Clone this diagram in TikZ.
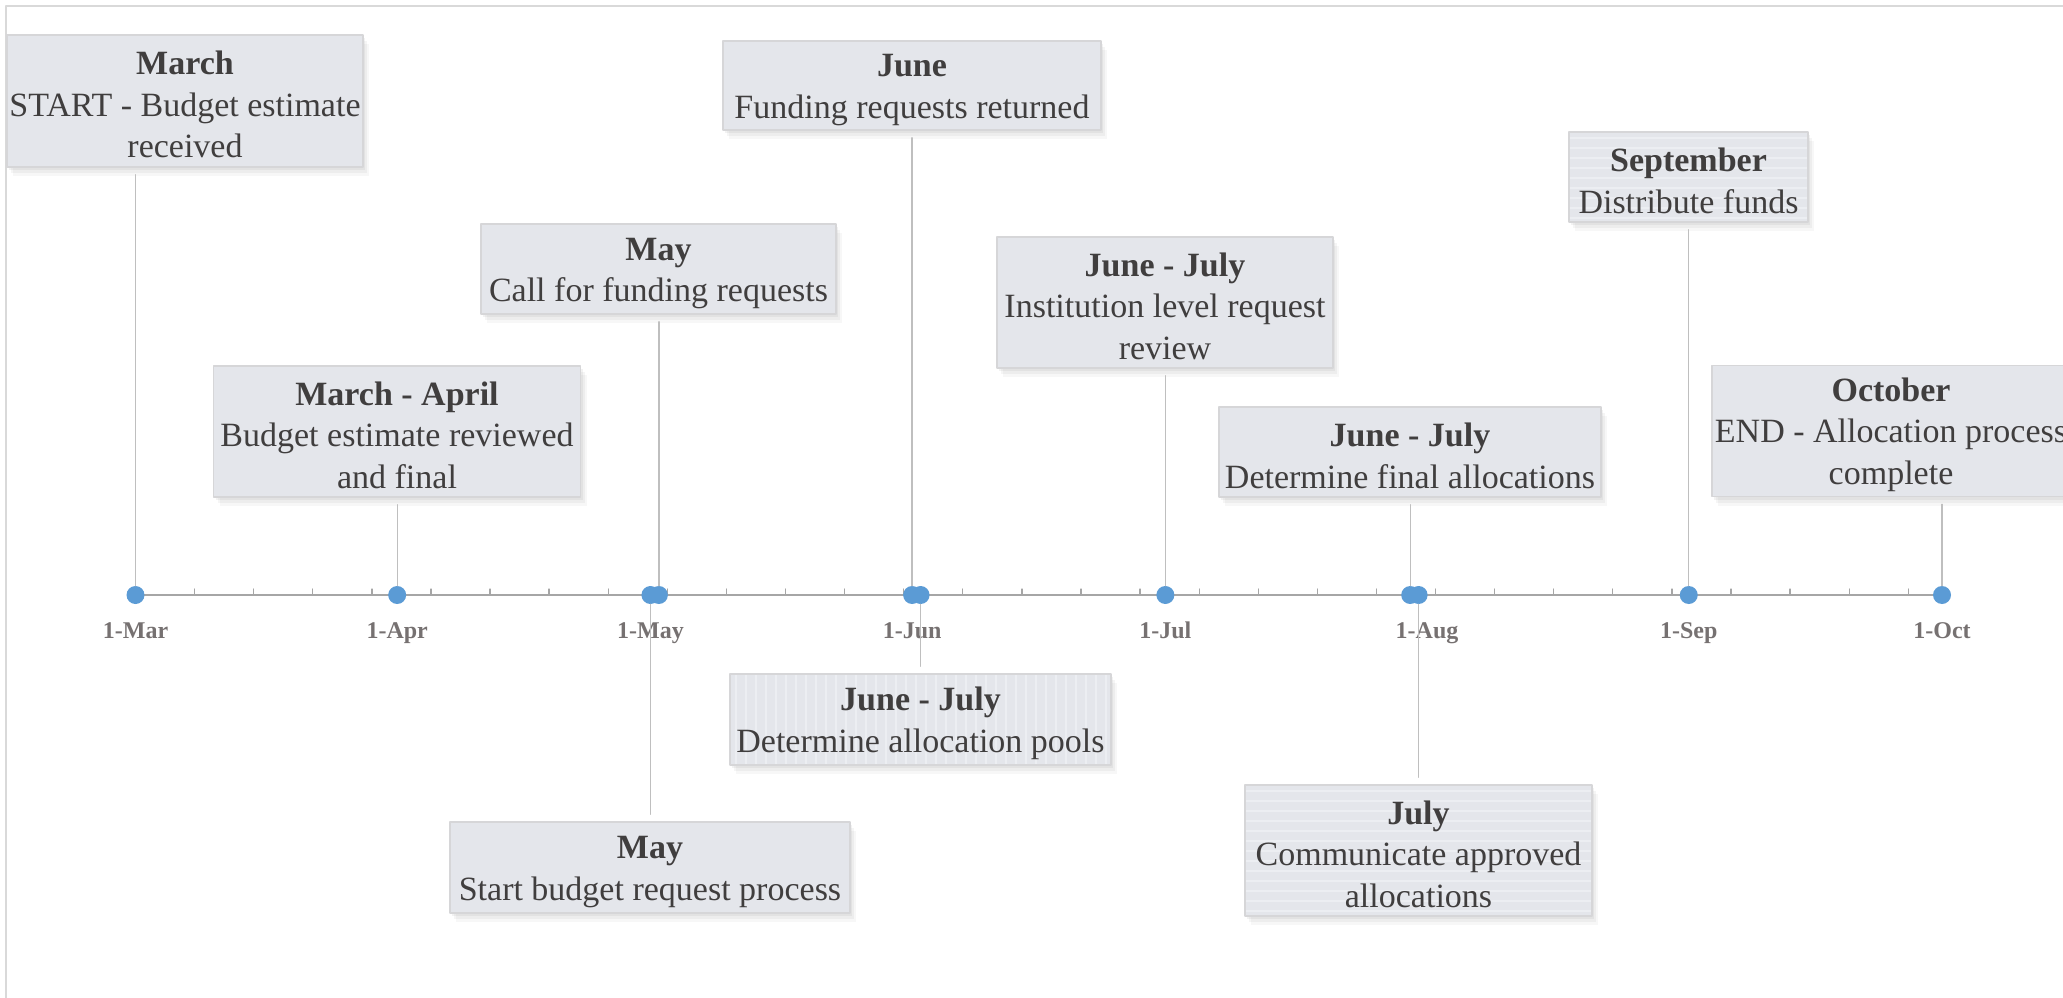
\documentclass[tikz,border=0pt]{standalone}
\usepackage{fontspec}
\setmainfont{Liberation Serif}
\usetikzlibrary{shadows}
\definecolor{dotblue}{RGB}{91,155,213}
\definecolor{axisgray}{RGB}{166,166,166}
\definecolor{linegray}{RGB}{191,191,191}
\definecolor{boxfill}{RGB}{228,230,235}
\definecolor{boxline}{RGB}{214,214,216}
\definecolor{stripe}{RGB}{236,238,242}
\definecolor{textdark}{RGB}{64,62,62}
\definecolor{labelgray}{RGB}{118,113,113}
\definecolor{framegray}{RGB}{217,217,217}
\newcommand{\tde}[1]{\textbf{\rule{0pt}{31pt}#1}} % dong tieu de
\tikzset{
  hop/.style={draw=boxline, line width=1.5, fill=boxfill, text=textdark, align=center, inner sep=0pt,
    drop shadow={shadow xshift=2pt, shadow yshift=-3pt, opacity=0.05, fill=black},
    drop shadow={shadow xshift=4pt, shadow yshift=-6pt, opacity=0.04, fill=black},
    drop shadow={shadow xshift=6pt, shadow yshift=-9pt, opacity=0.03, fill=black},
    font=\fontsize{34}{41.5}\selectfont},
  ngang/.style={path picture={\foreach \i in {6,16,...,140}
    \draw[stripe, line width=1.5] ([yshift=-\i pt]path picture bounding box.north west) -- ([yshift=-\i pt]path picture bounding box.north east);}},
  doc/.style={path picture={\foreach \i in {6,16,...,400}
    \draw[stripe, line width=1.5] ([xshift=\i pt]path picture bounding box.north west) -- ([xshift=\i pt]path picture bounding box.south west);}},
  moc/.style={circle, fill=dotblue, inner sep=0pt, minimum size=18},
  noi/.style={linegray, line width=1.3, shorten >=7},
}
\begin{document}
\begin{tikzpicture}[x=1pt, y=-1pt, line join=round, line cap=round]
\def\xt{135.5} \def\ngay{8.4416} \def\yt{595} % x cua 1-Mar, px / ngay, y cua truc
\useasboundingbox (0,0) rectangle (2063,998);
\clip (0,0) rectangle (2063,998);
\draw[framegray, line width=1.5] (6,1020) -- (6,6) -- (2080,6); % khung
% truc thoi gian
\draw[axisgray, line width=2] (\xt,\yt) -- ({\xt+214*\ngay},\yt);
\foreach \k in {1,...,30}
  \draw[axisgray, line width=1.3] ({\xt+7*\k*\ngay},\yt) -- ++(0,-6);
\foreach \d/\thang in {0/Mar,31/Apr,61/May,92/Jun,122/Jul,153/Aug,184/Sep,214/Oct}
  \node[anchor=base, text=labelgray, font=\fontsize{24}{28}\selectfont\bfseries] (m\thang) at ({\xt+\d*\ngay},638) {1-\thang};
% cac moc
\foreach \ten/\d in {mar/0,apr/31,mayA/61,mayB/62,junA/92,junB/93,jul/122,julA/151,julB/152,sep/184,oct/214}
  \node[moc] (\ten) at ({\xt+\d*\ngay},\yt) {};
% cac hop chu
\node[hop, minimum width=356, minimum height=132] (bMar) at (185,101) {\tde{March}\\START - Budget estimate\\received};
\node[hop, minimum width=367, minimum height=131] (bApr) at (397,431.5) {\tde{March - April}\\Budget estimate reviewed\\and final};
\node[hop, minimum width=355, minimum height=90] (bCall) at (658.5,269) {\tde{May}\\Call for funding requests};
\node[hop, minimum width=378, minimum height=89] (bRet) at (912,85.5) {\tde{June}\\Funding requests returned};
\node[hop, minimum width=336, minimum height=131] (bInst) at (1165,302.5) {\tde{June - July}\\Institution level request\\review};
\node[hop, minimum width=382, minimum height=90] (bFin) at (1410,452) {\tde{June - July}\\Determine final allocations};
\node[hop, ngang, minimum width=239, minimum height=90] (bSep) at (1688.5,177) {\tde{September}\\Distribute funds};
\node[hop, minimum width=358, minimum height=131] (bOct) at (1891,431) {\tde{October}\\END - Allocation process\\complete};
\node[hop, doc, minimum width=381, minimum height=91] (bPool) at (920.5,719.5) {\tde{June - July}\\Determine allocation pools};
\node[hop, minimum width=400, minimum height=91] (bStart) at (650,867.5) {\tde{May}\\Start budget request process};
\node[hop, ngang, minimum width=347, minimum height=131] (bComm) at (1418.5,850.5) {\tde{July}\\Communicate approved\\allocations};
% duong noi
\draw[noi] (mar.north) -- (mar |- bMar.south);
\draw[noi] (apr.north) -- (apr |- bApr.south);
\draw[noi] (mayB.north) -- (mayB |- bCall.south);
\draw[noi] (junA.north) -- (junA |- bRet.south);
\draw[noi] (jul.north) -- (jul |- bInst.south);
\draw[noi] (julA.north) -- (julA |- bFin.south);
\draw[noi] (sep.north) -- (sep |- bSep.south);
\draw[noi] (oct.north) -- (oct |- bOct.south);
\draw[noi] (junB.south) -- (junB |- bPool.north);
\draw[noi] (mayA.south) -- (mayA |- bStart.north);
\draw[noi] (julB.south) -- (julB |- bComm.north);
\end{tikzpicture}
\end{document}
